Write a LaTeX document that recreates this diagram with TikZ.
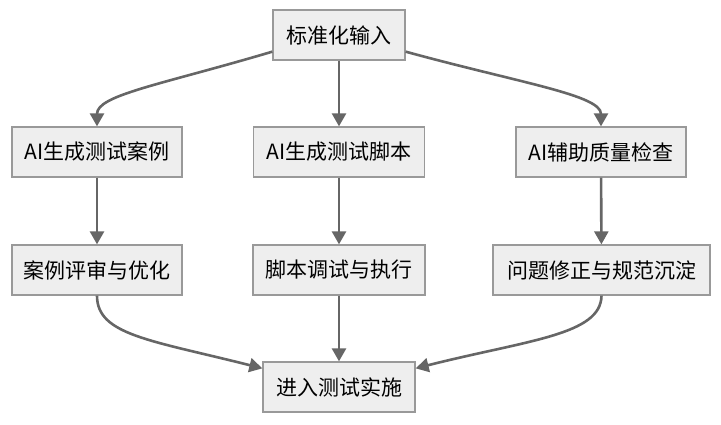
\documentclass[tikz,border=0pt]{standalone}
\usepackage{fontspec}
\setmainfont{Noto Sans CJK SC}
\usetikzlibrary{arrows.meta,calc}
\definecolor{boxfill}{HTML}{EEEEEE}
\definecolor{boxline}{HTML}{999999}
\definecolor{edge}{HTML}{666666}
\begin{document}
\begin{tikzpicture}[x=1pt,y=-1pt,
  box/.style={draw=boxline,fill=boxfill,line width=1.3pt,minimum height=50pt,inner sep=0pt,font=\fontsize{21}{24}\selectfont},
  conn/.style={draw=edge,line width=2.6pt,-{Triangle[length=13pt,width=14pt]}}]
\useasboundingbox (0,0) rectangle (721,424);
\node[box,minimum width=132pt] (top) at (339,35) {标准化输入};
\node[box,minimum width=170pt] (a1) at (97,152) {AI生成测试案例};
\node[box,minimum width=171pt] (b1) at (339,152) {AI生成测试脚本};
\node[box,minimum width=170pt] (c1) at (601,152) {AI辅助质量检查};
\node[box,minimum width=170pt] (a2) at (97,270) {案例评审与优化};
\node[box,minimum width=172pt] (b2) at (339,270) {脚本调试与执行};
\node[box,minimum width=217pt] (c2) at (601.5,270) {问题修正与规范沉淀};
\node[box,minimum width=152pt] (end) at (339,387) {进入测试实施};
\coordinate (tl) at ($(top.south west)+(0,-9)$);
\coordinate (tr) at ($(top.south east)+(0,-9)$);
\coordinate (el) at ($(end.north west)+(0,7)$);
\coordinate (er) at ($(end.north east)+(0,7)$);
\draw[conn] (tl) .. controls (160,85) and (97,95) .. (a1.north);
\draw[conn] (tr) .. controls (520,83) and (601,95) .. (c1.north);
\draw[conn] (top) -- (b1);
\draw[conn] (a1) -- (a2);
\draw[conn] (b1) -- (b2);
\draw[conn] (c1) -- (c2);
\draw[conn] (a2.south) .. controls (97,335) and (150,340) .. (el);
\draw[conn] (c2.south) .. controls (601,335) and (528,340) .. (er);
\draw[conn] (b2) -- (end);
\end{tikzpicture}
\end{document}
